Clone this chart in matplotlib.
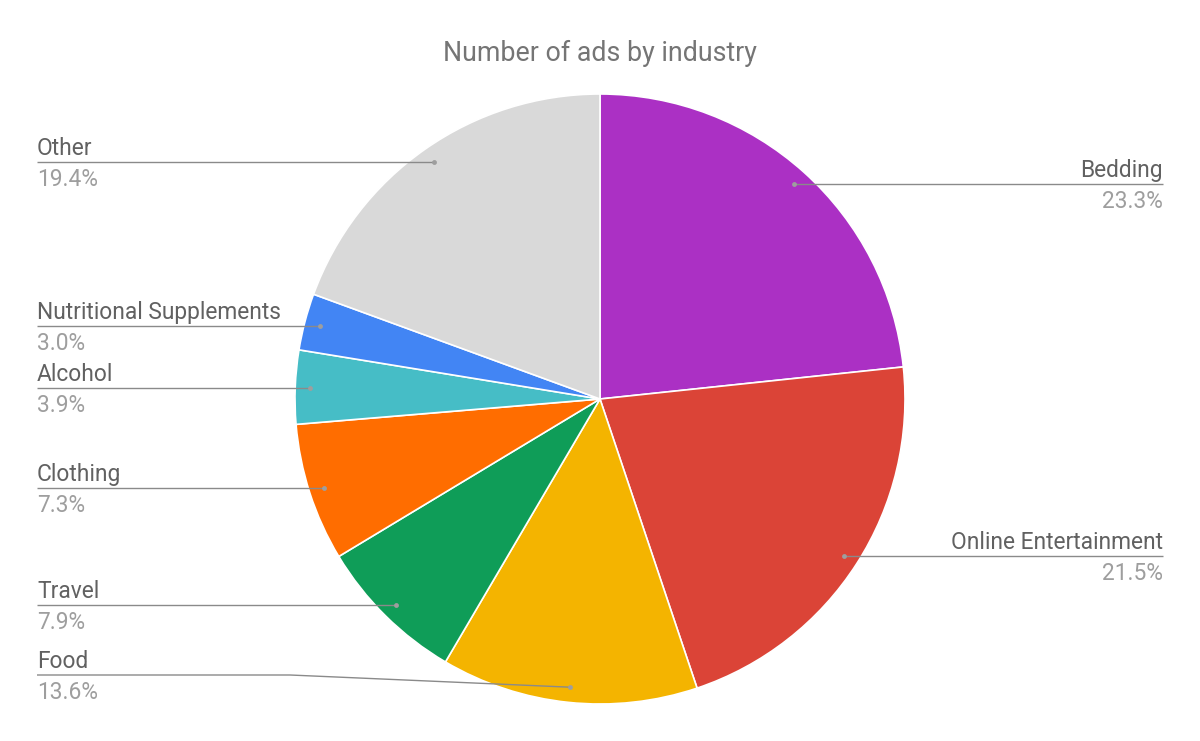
import numpy as np
import matplotlib as mpl; mpl.use("Agg")
import matplotlib.pyplot as plt

plt.rcParams["font.family"] = ["Roboto", "DejaVu Sans"]

# Data
# ------------------------------------------------------------------------------
title = "Number of ads by industry"
industries = ["Bedding", "Online Entertainment", "Food", "Travel", "Clothing",
              "Alcohol", "Nutritional Supplements", "Other"]
shares = [23.3, 21.5, 13.6, 7.9, 7.3, 3.9, 3.0, 19.4]
colors = ["#AB30C4", "#DB4437", "#F4B400", "#0F9D58", "#FF6D00",
          "#46BDC6", "#4285F4", "#D9D9D9"]

# Layout (pixel-like data coords, y up)
W, H = 1200, 741
cx, cy, R = 600, 741 - 399, 305
x_left, x_right = 37, 1163
y_floor = 741 - 675          # lowest a label line may sit
bend_x = 290

fig = plt.figure(figsize=(12, 7.41), dpi=100)
ax = fig.add_axes([0, 0, 1, 1])
ax.set_xlim(0, W)
ax.set_ylim(0, H)
ax.set_aspect("equal")
ax.axis("off")

wedges, _ = ax.pie(shares, colors=colors, startangle=90, counterclock=False,
                   radius=R, center=(cx, cy),
                   wedgeprops=dict(edgecolor="white", linewidth=1.2))
ax.set_xlim(0, W)
ax.set_ylim(0, H)

total = sum(shares)
cum = 0.0
line_col = "#8a8a8a"
for name, s in zip(industries, shares):
    mid = (cum + s / 2) / total * 2 * np.pi
    cum += s
    dx, dy = 0.95 * R * np.sin(mid), 0.95 * R * np.cos(mid)
    px, py = cx + dx, cy + dy
    ly = max(py, y_floor)
    if dx >= 0:
        xs, ha, xt = [px, x_right], "right", x_right
    else:
        if ly != py:
            xs = [x_left, bend_x, px]
        else:
            xs = [x_left, px]
        ha, xt = "left", x_left
    ys = [ly] * len(xs)
    if len(xs) == 3:
        ys[-1] = py
    ax.plot(xs, ys, color=line_col, lw=1, solid_capstyle="butt")
    ax.plot(px, py, "o", ms=3.5, color="#9e9e9e", mec="none")
    ax.text(xt, ly + 7, name, ha=ha, va="baseline", fontsize=16.4, color="#616161")
    ax.text(xt, ly - 6, f"{s:.1f}%", ha=ha, va="top", fontsize=16.4, color="#9e9e9e")

ax.text(W / 2, H - 53, title, ha="center", va="center", fontsize=19.3, color="#757575")

fig.savefig("out.png", dpi=100)
